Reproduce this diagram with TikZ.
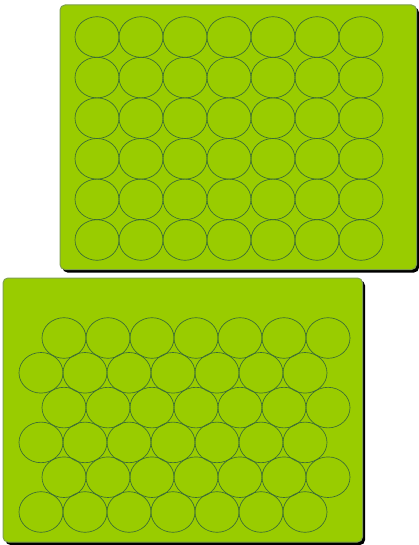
\documentclass[tikz,border=0pt]{standalone}
\begin{document}
\begin{tikzpicture}[x=1pt,y=-1pt,
  plate/.style={fill=plategreen,draw=plateedge,line width=1pt,rounded corners=5pt},
  shadowbox/.style={fill=black,rounded corners=5pt},
  well/.style={draw=welledge,line width=0.65pt}]
\definecolor{plategreen}{HTML}{99CC00}
\definecolor{plateedge}{HTML}{7E9E4E}
\definecolor{welledge}{HTML}{3A6A36}
\useasboundingbox (0,0) rectangle (419,545);
% top plate
\fill[shadowbox] (62.5,7.5) rectangle (419,272.5);
\draw[plate] (60,5) rectangle (416.5,269.5);
\foreach \r in {0,...,5}{
  \foreach \c in {0,...,6}{
    \draw[well] (97+44*\c,37+40.6*\r) ellipse [x radius=22, y radius=20.3];
  }
}
% bottom plate
\fill[shadowbox] (5.5,280.5) rectangle (365,545);
\draw[plate] (3,278) rectangle (362.5,542);
\foreach \r in {0,2,4}{
  \foreach \c in {0,...,6}{
    \draw[well] (64+44*\c,338+34.8*\r) ellipse [x radius=22, y radius=20.3];
  }
}
\foreach \r in {1,3,5}{
  \foreach \c in {0,...,6}{
    \draw[well] (41+44*\c,338+34.8*\r) ellipse [x radius=22, y radius=20.3];
  }
}
\end{tikzpicture}
\end{document}
